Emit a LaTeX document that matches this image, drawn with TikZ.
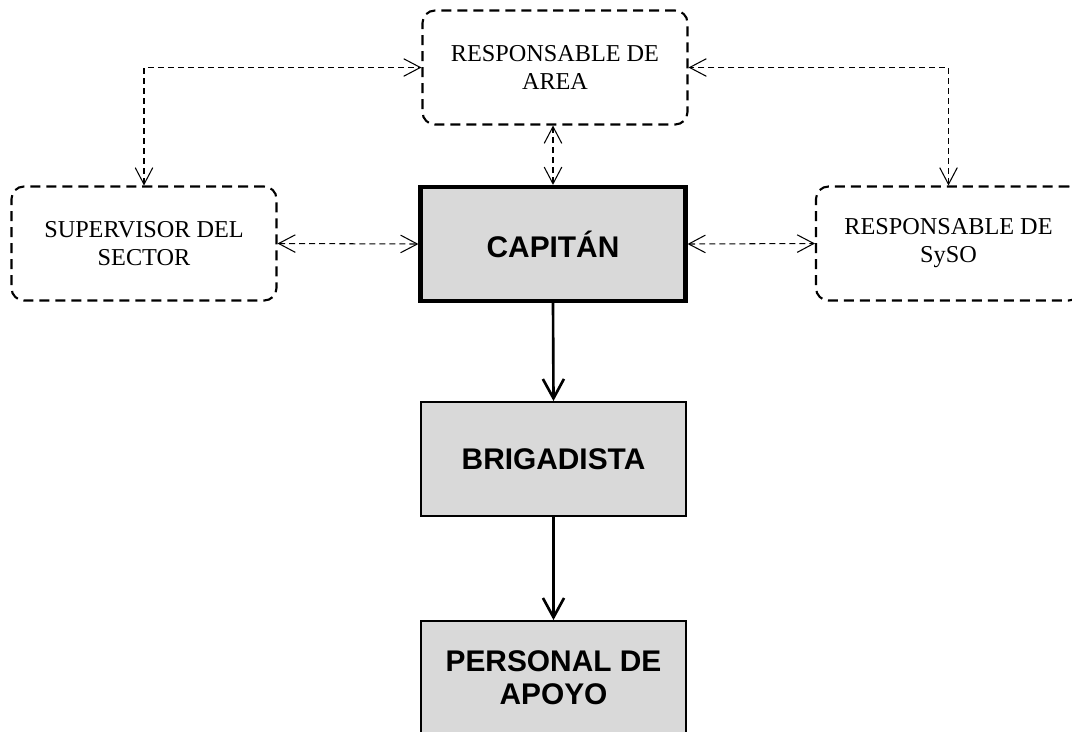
\documentclass[tikz,border=0pt]{standalone}
\usepackage{fontspec}
\setmainfont{Liberation Serif}
\setsansfont{Liberation Sans}
\usepackage{tikz}
\usetikzlibrary{arrows.meta,calc}
\definecolor{boxgray}{HTML}{D9D9D9}
\tikzset{
  rolbox/.style={draw,line width=1.2pt,dash pattern=on 5.7pt off 3.4pt,rounded corners=7pt,
    minimum width=5.3cm,minimum height=2.28cm,align=center,
    font=\fontsize{13.8}{16}\selectfont},
  jefebox/.style={draw,fill=boxgray,line width=1.1pt,minimum width=5.3cm,minimum height=2.28cm,
    align=center,font=\sffamily\bfseries\fontsize{17}{19}\selectfont},
  enlace/.style={line width=0.6pt,dash pattern=on 3.4pt off 2.3pt,
    {Straight Barb[length=9.5pt,width=10pt]}-{Straight Barb[length=9.5pt,width=10pt]}},
  mando/.style={line width=1.5pt,-{Straight Barb[length=11pt,width=12pt,line width=1.5pt]}}
}
\begin{document}
\begin{tikzpicture}[x=0.02cm,y=-0.02cm]
\useasboundingbox (0,0) rectangle (1072,731);
\node[rolbox] (area) at (555,67.5) {RESPONSABLE DE\\AREA};
\node[rolbox] (super) at (144,243.5) {SUPERVISOR DEL\\SECTOR};
\node[jefebox,line width=2.4pt] (capitan) at (553,244) {CAPITÁN};
\node[rolbox] (syso) at (948.5,243.5) {RESPONSABLE DE\\SySO};
\node[jefebox] (brig) at (553.5,459) {BRIGADISTA};
\node[jefebox] (personal) at (553.5,678) {PERSONAL DE\\APOYO};
% relaciones de coordinacion
\draw[enlace] (super.north) |- (area.west);
\draw[enlace] (syso.north) |- (area.east);
\draw[enlace] (capitan.north) -- (capitan.north |- area.south);
\draw[enlace] (super.east) -- (capitan.west);
\draw[enlace] (capitan.east) -- (syso.west);
% linea de mando
\draw[mando] (capitan.south) -- (brig.north);
\draw[mando] (brig.south) -- (personal.north);
\end{tikzpicture}
\end{document}
